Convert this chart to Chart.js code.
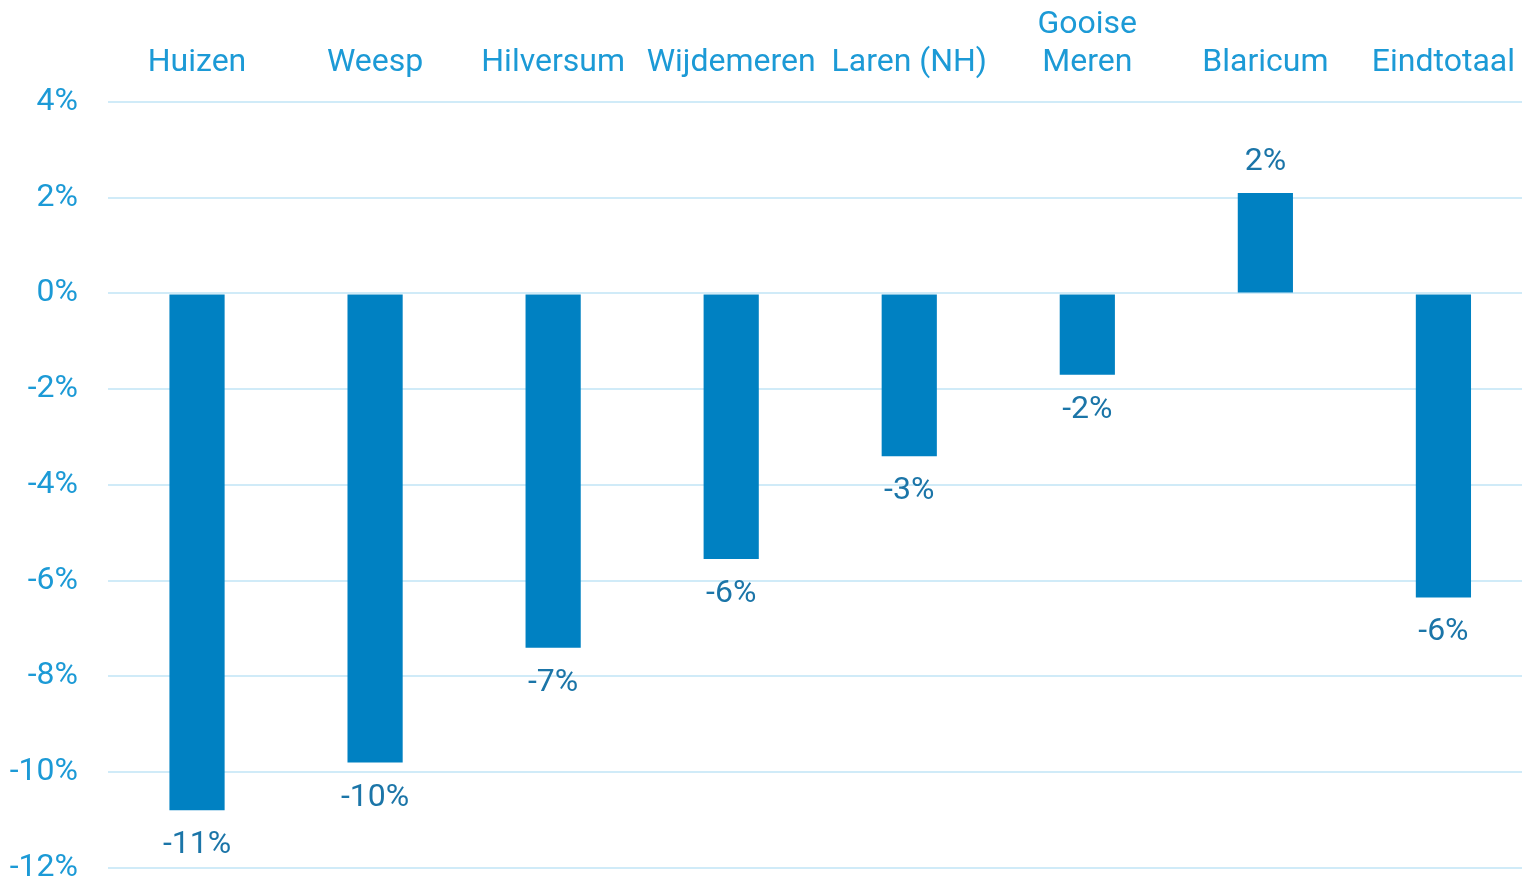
<!DOCTYPE html>
<html>
<head>
<meta charset="utf-8">
<script src="https://cdn.jsdelivr.net/npm/chart.js@4"></script>
<style>
html,body{margin:0;padding:0;background:#fff;overflow:hidden;}
#wrap{position:absolute;left:0;top:0;width:1535px;height:917px;}
</style>
</head>
<body>
<div id="wrap"><canvas id="c" width="1535" height="917"></canvas></div>
<script>
const categories = ["Huizen", "Weesp", "Hilversum", "Wijdemeren", "Laren (NH)", ["Gooise", "Meren"], "Blaricum", "Eindtotaal"];
const values = [-10.8, -9.8, -7.4, -5.55, -3.4, -1.7, 2.1, -6.35];
const yTicks = [4, 2, 0, -2, -4, -6, -8, -10, -12];

const barColor = "#0081C2";
const axisColor = "#1C9AD6";
const labelColor = "#1B75A8";
const gridColor = "#D0EBF8";
const FONT = "Roboto";

const valueLabels = {
  id: "valueLabels",
  afterDatasetsDraw(chart) {
    const ctx = chart.ctx;
    const meta = chart.getDatasetMeta(0);
    ctx.save();
    ctx.font = "32px " + FONT;
    ctx.fillStyle = labelColor;
    ctx.textAlign = "center";
    ctx.textBaseline = "middle";
    meta.data.forEach((bar, i) => {
      const v = values[i];
      const r = Math.sign(v) * Math.round(Math.abs(v));
      const txt = r + "%";
      if (v >= 0) {
        ctx.fillText(txt, bar.x, bar.y - 31);
      } else {
        ctx.fillText(txt, bar.x, bar.y + 35);
      }
    });
    ctx.restore();
  }
};

new Chart(document.getElementById("c"), {
  type: "bar",
  data: {
    labels: categories,
    datasets: [{
      data: values,
      backgroundColor: barColor,
      barPercentage: 0.31,
      categoryPercentage: 1.0
    }]
  },
  options: {
    responsive: false,
    animation: false,
    events: [],
    layout: { padding: { top: 0, bottom: 0, left: 0, right: 0 } },
    plugins: { legend: { display: false }, tooltip: { enabled: false } },
    scales: {
      x: {
        position: "top",
        afterFit(axis) { axis.height = 102; },
        grid: { display: false, drawTicks: false },
        border: { display: false },
        ticks: {
          color: axisColor,
          font: { family: FONT, size: 32, lineHeight: 1.18 },
          padding: 20,
          maxRotation: 0,
          autoSkip: false
        }
      },
      y: {
        min: -12,
        max: 4,
        afterBuildTicks(axis) { axis.ticks = yTicks.map(v => ({ value: v })); },
        afterFit(axis) { axis.width = 108; },
        grid: { color: gridColor, lineWidth: 2, drawTicks: false },
        border: { display: false },
        ticks: {
          color: axisColor,
          font: { family: FONT, size: 32 },
          padding: 30,
          callback: v => v + "%"
        }
      }
    }
  },
  plugins: [valueLabels]
});
</script>
</body>
</html>
